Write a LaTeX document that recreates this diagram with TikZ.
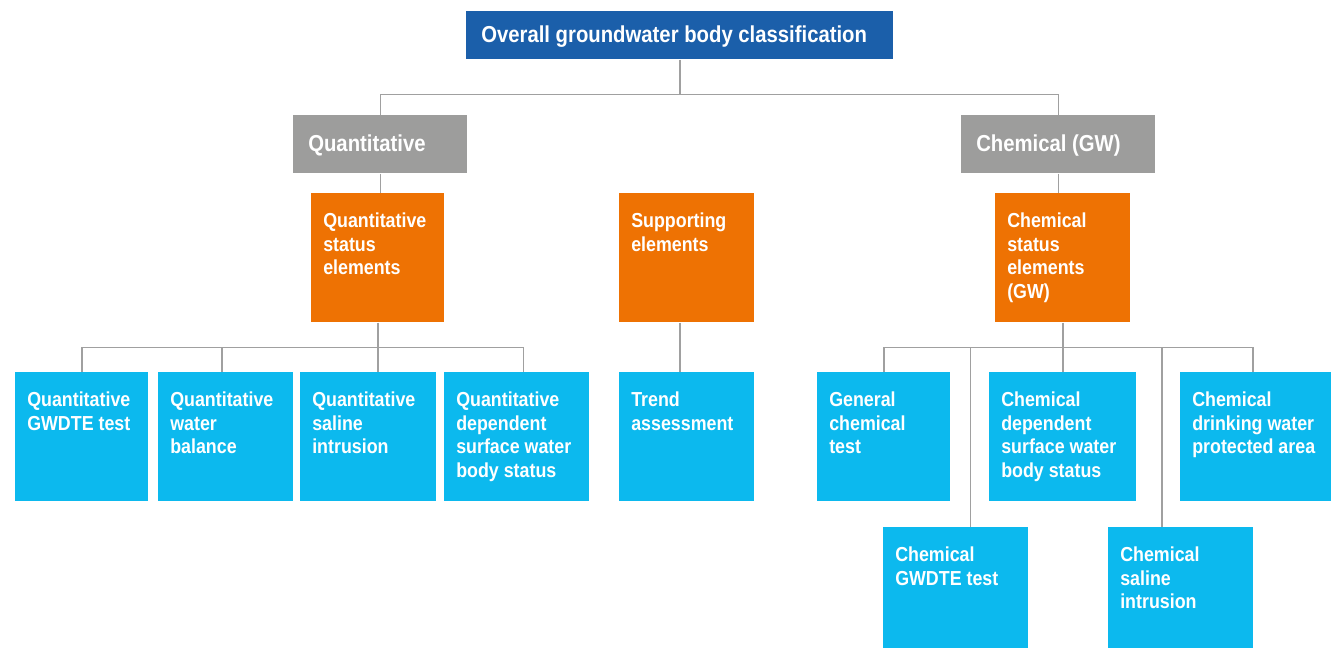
\documentclass[tikz,border=0pt]{standalone}
\usepackage{fontspec}
\setmainfont{Liberation Sans}[FakeStretch=0.88]
\usepackage{tikz}
\usetikzlibrary{positioning,calc}
\definecolor{titleblue}{RGB}{27,95,170}
\definecolor{headgray}{RGB}{157,157,156}
\definecolor{elemorange}{RGB}{238,114,3}
\definecolor{testcyan}{RGB}{12,185,238}
\definecolor{linkgray}{RGB}{160,160,160}
\newlength{\px}\setlength{\px}{0.75pt}
% #1 text width, #2 box height, #3 first baseline, #4 text (all in px)
\newcommand{\boxtext}[4]{\parbox[t][#2\px][t]{#1\px}{\raggedright\rule{0pt}{#3\px}#4}}

\begin{document}
\begin{tikzpicture}[
      x=0.75pt, y=-0.75pt,
      cell/.style={anchor=north west, inner xsep=12\px, inner ysep=0pt, text=white,
        font=\fontsize{15.2pt}{17.6pt}\selectfont\bfseries},
      head/.style={cell, inner xsep=15\px, font=\fontsize{17.3pt}{20pt}\selectfont\bfseries},
      titlebox/.style={head, fill=titleblue},
      groupbox/.style={head, fill=headgray},
      elembox/.style={cell, fill=elemorange},
      testbox/.style={cell, fill=testcyan},
      link/.style={draw=linkgray, line width=1.1pt}
    ]
      \useasboundingbox (0,0) rectangle (1333,648);

      \node[titlebox] (overall) at (466,11) {\boxtext{397}{48}{31.5}{Overall groundwater body classification}};

      \node[groupbox] (quant) at (293,115) {\boxtext{144}{58}{36}{Quantitative}};
      \node[groupbox] (chem) at (961,115) {\boxtext{164}{58}{36}{Chemical (GW)}};

      \node[elembox] (qstatus) at (311,193) {\boxtext{109}{129}{34.5}{Quantitative\\status\\elements}};
      \node[elembox] (support) at (619,193) {\boxtext{111}{129}{34.5}{Supporting\\elements}};
      \node[elembox] (cstatus) at (995,193) {\boxtext{111}{129}{34.5}{Chemical\\status\\elements\\(GW)}};

      \node[testbox] (qgwdte) at (15,372) {\boxtext{109}{129}{34.5}{Quantitative\\GWDTE test}};
      \node[testbox] (qwater) at (158,372) {\boxtext{111}{129}{34.5}{Quantitative\\water\\balance}};
      \node[testbox] (qsaline) at (300,372) {\boxtext{112}{129}{34.5}{Quantitative\\saline\\intrusion}};
      \node[testbox] (qsurface) at (444,372) {\boxtext{121}{129}{34.5}{Quantitative\\dependent\\surface water\\body status}};
      \node[testbox] (trend) at (619,372) {\boxtext{111}{129}{34.5}{Trend\\assessment}};
      \node[testbox] (general) at (817,372) {\boxtext{109}{129}{34.5}{General\\chemical\\test}};
      \node[testbox] (cdepend) at (989,372) {\boxtext{123}{129}{34.5}{Chemical\\dependent\\surface water\\body status}};
      \node[testbox] (cdrink) at (1180,372) {\boxtext{127}{129}{34.5}{Chemical\\drinking water\\protected area}};
      \node[testbox] (cgwdte) at (883,527) {\boxtext{121}{121}{34.5}{Chemical\\GWDTE test}};
      \node[testbox] (csaline) at (1108,527) {\boxtext{121}{121}{34.5}{Chemical\\saline\\intrusion}};

      \draw[link] (overall.south) -- ++(0,35) coordinate (topbus);
      \draw[link] (topbus) -| (quant.north);
      \draw[link] (topbus) -| (chem.north);
      \draw[link] (quant.south) -- (quant.south |- qstatus.north);
      \draw[link] (chem.south) -- (chem.south |- cstatus.north);
      \draw[link] ([xshift=-5pt]support.south) -- ([xshift=-5pt]trend.north);

      \draw[link] (qstatus.south) -- ++(0,25) coordinate (qbus);
      \draw[link] (qbus) -| (qgwdte.north);
      \draw[link] (qbus) -| ([xshift=-3pt]qwater.north);
      \draw[link] (qbus) -- (qbus |- qsaline.north);
      \draw[link] (qbus) -| ([xshift=5pt]qsurface.north);

      \draw[link] (cstatus.south) -- ++(0,25) coordinate (cbus);
      \draw[link] (cbus) -| (general.north);
      \draw[link] (cbus) -| ([xshift=11pt]cgwdte.north);
      \draw[link] (cbus) -- (cbus |- cdepend.north);
      \draw[link] (cbus) -| ([xshift=-14pt]csaline.north);
      \draw[link] (cbus) -| ([xshift=-2pt]cdrink.north);
    \end{tikzpicture}
\end{document}
